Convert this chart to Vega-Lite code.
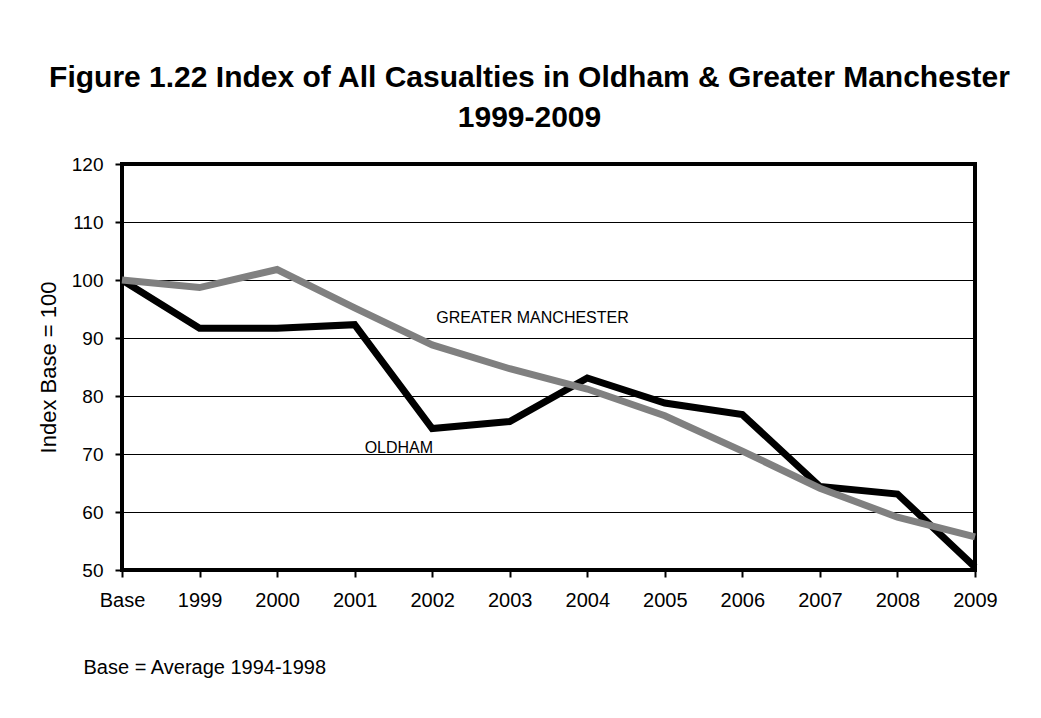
{
  "$schema": "https://vega.github.io/schema/vega-lite/v6.json",
  "width": 853,
  "height": 406,
  "autosize": {"type": "none"},
  "padding": {"left": 122, "top": 164, "right": 66, "bottom": 148},
  "background": "white",
  "config": {
    "view": {"stroke": "#000", "strokeWidth": 4},
    "font": "Liberation Sans"
  },
  "title": {
    "text": ["Figure 1.22 Index of All Casualties in Oldham & Greater Manchester", "1999-2009"],
    "fontSize": 30,
    "fontWeight": "bold",
    "font": "Liberation Sans",
    "color": "#000",
    "anchor": "middle",
    "dx": -19,
    "lineHeight": 40,
    "offset": 22
  },
  "datasets": {
    "series": [
      {"year": "Base", "area": "Oldham", "index": 100},
      {"year": "1999", "area": "Oldham", "index": 91.7},
      {"year": "2000", "area": "Oldham", "index": 91.7},
      {"year": "2001", "area": "Oldham", "index": 92.3},
      {"year": "2002", "area": "Oldham", "index": 74.4},
      {"year": "2003", "area": "Oldham", "index": 75.6},
      {"year": "2004", "area": "Oldham", "index": 83.1},
      {"year": "2005", "area": "Oldham", "index": 78.8},
      {"year": "2006", "area": "Oldham", "index": 76.8},
      {"year": "2007", "area": "Oldham", "index": 64.4},
      {"year": "2008", "area": "Oldham", "index": 63.1},
      {"year": "2009", "area": "Oldham", "index": 50.5},
      {"year": "Base", "area": "Greater Manchester", "index": 100},
      {"year": "1999", "area": "Greater Manchester", "index": 98.7},
      {"year": "2000", "area": "Greater Manchester", "index": 101.8},
      {"year": "2001", "area": "Greater Manchester", "index": 95.2},
      {"year": "2002", "area": "Greater Manchester", "index": 88.8},
      {"year": "2003", "area": "Greater Manchester", "index": 84.7},
      {"year": "2004", "area": "Greater Manchester", "index": 81.2},
      {"year": "2005", "area": "Greater Manchester", "index": 76.6},
      {"year": "2006", "area": "Greater Manchester", "index": 70.5},
      {"year": "2007", "area": "Greater Manchester", "index": 64.1},
      {"year": "2008", "area": "Greater Manchester", "index": 59.1},
      {"year": "2009", "area": "Greater Manchester", "index": 55.7}
    ],
    "gmLabel": [{"label": "GREATER MANCHESTER", "year": "2002", "index": 93.5}],
    "oldLabel": [{"label": "OLDHAM", "year": "2001", "index": 71.1}]
  },
  "encoding": {
    "x": {
      "field": "year",
      "type": "ordinal",
      "sort": null,
      "scale": {"type": "point", "padding": 0, "domain": ["Base", "1999", "2000", "2001", "2002", "2003", "2004", "2005", "2006", "2007", "2008", "2009"]},
      "axis": {
        "title": "Base = Average 1994-1998",
        "titleFont": "Liberation Sans",
        "titleFontSize": 20,
        "titleFontWeight": "normal",
        "titleColor": "#000",
        "titleAnchor": "start",
        "titleAlign": "left",
        "titleBaseline": "alphabetic",
        "titleX": -39,
        "titleY": 103,
        "labelAngle": 0,
        "labelFont": "Liberation Sans",
        "labelFontSize": 20,
        "labelColor": "#000",
        "labelPadding": 13,
        "tickSize": 7,
        "tickWidth": 2,
        "tickColor": "#000",
        "domain": false,
        "grid": false
      }
    },
    "y": {
      "field": "index",
      "type": "quantitative",
      "scale": {"domain": [50, 120], "nice": false, "zero": false},
      "axis": {
        "title": "Index Base = 100",
        "titleFont": "Liberation Sans",
        "titleFontSize": 22,
        "titleFontWeight": "normal",
        "titleColor": "#000",
        "titlePadding": 11,
        "values": [50, 60, 70, 80, 90, 100, 110, 120],
        "labelFont": "Liberation Sans",
        "labelFontSize": 19,
        "labelColor": "#000",
        "labelPadding": 12,
        "tickSize": 7,
        "tickWidth": 2,
        "tickColor": "#000",
        "domain": false,
        "grid": true,
        "gridColor": "#000",
        "gridWidth": 1,
        "gridOpacity": 1
      }
    }
  },
  "layer": [
    {
      "data": {"name": "series"},
      "transform": [{"filter": "datum.area === 'Oldham'"}],
      "mark": {"type": "line", "color": "#000", "strokeWidth": 7}
    },
    {
      "data": {"name": "series"},
      "transform": [{"filter": "datum.area === 'Greater Manchester'"}],
      "mark": {"type": "line", "color": "#808080", "strokeWidth": 7}
    },
    {
      "data": {"name": "gmLabel"},
      "mark": {"type": "text", "align": "left", "baseline": "middle", "dx": 4, "fontSize": 16, "font": "Liberation Sans", "color": "#000"},
      "encoding": {"text": {"field": "label"}}
    },
    {
      "data": {"name": "oldLabel"},
      "mark": {"type": "text", "align": "left", "baseline": "middle", "dx": 10, "fontSize": 16, "font": "Liberation Sans", "color": "#000"},
      "encoding": {"text": {"field": "label"}}
    }
  ]
}
